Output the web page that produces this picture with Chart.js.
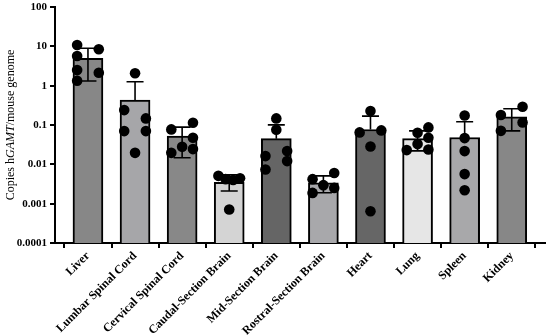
<!DOCTYPE html>
<html>
<head>
<meta charset="utf-8">
<script src="https://cdn.jsdelivr.net/npm/chart.js@4"></script>
<style>
html,body{margin:0;padding:0;background:#fff;}
#wrap{width:550px;height:335px;position:relative;}
</style>
</head>
<body>
<div id="wrap"><canvas id="c" width="550" height="335"></canvas></div>
<script>
// ---- data ----
const categories = ['Liver','Lumbar Spinal Cord','Cervical Spinal Cord','Caudal-Section Brain','Mid-Section Brain','Rostral-Section Brain','Heart','Lung','Spleen','Kidney'];
const means    = [4.95, 0.43, 0.052, 0.0035, 0.045, 0.0034, 0.077, 0.045, 0.048, 0.162];
const errUpper = [8.9, 1.26, 0.0885, 0.0054, 0.101, 0.0051, 0.168, 0.071, 0.121, 0.258];
const errLower = [1.31, null, 0.0147, 0.0021, null, 0.0019, null, 0.022, null, 0.0711];
const yTicks = [100, 10, 1, 0.1, 0.01, 0.001, 0.0001];

const liver   = [10.8, 8.4, 5.66, 2.49, 2.13, 1.33];
const lumbar  = [2.06, 0.239, 0.147, 0.070, 0.070, 0.0196];
const cervical= [0.0773, 0.114, 0.0473, 0.0279, 0.0196, 0.0244];
const caudal  = [0.0051, 0.0042, 0.0040, 0.0044, 0.00071];
const midBrain= [0.147, 0.0755, 0.0162, 0.0217, 0.0121, 0.0074];
const rostral = [0.0042, 0.0060, 0.00296, 0.00252, 0.00188];
const heart   = [0.226, 0.0649, 0.0729, 0.0285, 0.00064];
const lung    = [0.0868, 0.0634, 0.0473, 0.0327, 0.0230, 0.0239];
const spleen  = [0.175, 0.0465, 0.0217, 0.00564, 0.0022];
const kidney  = [0.29, 0.179, 0.116, 0.0711];
const pointSets = [liver, lumbar, cervical, caudal, midBrain, rostral, heart, lung, spleen, kidney];

// ---- style / layout ----
const barColors = ['#878787','#a6a6a9','#888888','#d4d4d4','#656565','#a8a8ab','#666666','#e6e6e6','#a8a8aa','#878787'];
const jitterCols = [
  [-1, 1, -1, -1, 1, -1],
  [0, -1, 1, -1, 1, 0],
  [-1, 1, 1, 0, -1, 1],
  [-1, -0.33, 0.36, 1, 0],
  [0, 0, -1, 1, 1, -1],
  [-1, 1, 0, 1, -1],
  [0, -1, 1, 0, 0],
  [1, 0, 1, 0, -1, 1],
  [0, 0, 0, 0, 0],
  [1, -1, 1, -1]
];
const JIT = 0.23;
const SERIF = '"Liberation Serif", "DejaVu Serif", serif';

const barData = means.map((v, i) => ({x: i, y: v}));
const dotData = [];
pointSets.forEach((arr, i) => arr.forEach((v, k) => dotData.push({x: i + jitterCols[i][k] * JIT, y: v})));

const errorBars = {
  id: 'errorBars',
  afterDatasetDraw(chart, args) {
    if (args.index !== 0) return;
    const ctx = chart.ctx, xs = chart.scales.x, ys = chart.scales.y;
    ctx.save();
    ctx.strokeStyle = '#000';
    ctx.lineWidth = 1.6;
    const cap = 8.5;
    means.forEach((m, i) => {
      const x = xs.getPixelForValue(i);
      const ym = ys.getPixelForValue(m);
      const yu = ys.getPixelForValue(errUpper[i]);
      ctx.beginPath();
      ctx.moveTo(x, ym); ctx.lineTo(x, yu);
      ctx.moveTo(x - cap, yu); ctx.lineTo(x + cap, yu);
      if (errLower[i] != null) {
        const yl = ys.getPixelForValue(errLower[i]);
        ctx.moveTo(x, ym); ctx.lineTo(x, yl);
        ctx.moveTo(x - cap, yl); ctx.lineTo(x + cap, yl);
      }
      ctx.stroke();
    });
    ctx.restore();
  }
};

const yTitle = {
  id: 'yTitle',
  afterDraw(chart) {
    const ctx = chart.ctx, a = chart.chartArea;
    const parts = [
      {t: 'Copies h', f: '12px ' + SERIF},
      {t: 'GAMT', f: 'italic 12px ' + SERIF},
      {t: '/mouse genome', f: '12px ' + SERIF}
    ];
    ctx.save();
    let total = 0;
    parts.forEach(p => { ctx.font = p.f; p.w = ctx.measureText(p.t).width; total += p.w; });
    ctx.translate(11, (a.top + a.bottom) / 2);
    ctx.rotate(-Math.PI / 2);
    ctx.fillStyle = '#000';
    ctx.textBaseline = 'middle';
    ctx.textAlign = 'left';
    let x = -total / 2;
    parts.forEach(p => { ctx.font = p.f; ctx.fillText(p.t, x, 0); x += p.w; });
    ctx.restore();
  }
};

new Chart(document.getElementById('c'), {
  data: {
    datasets: [
      {type: 'bar', data: barData, backgroundColor: barColors, borderColor: '#000', borderWidth: 2, barThickness: 30, order: 2},
      {type: 'scatter', data: dotData, pointRadius: 5.3, pointBackgroundColor: '#000', pointBorderWidth: 0, pointHoverRadius: 5.3, order: 1}
    ]
  },
  options: {
    responsive: false,
    animation: false,
    events: [],
    layout: {padding: {top: 7, right: 3, left: 0, bottom: 0}},
    plugins: {legend: {display: false}, tooltip: {enabled: false}},
    scales: {
      x: {
        type: 'linear', min: -0.7, max: 9.7, offset: false,
        afterBuildTicks(s) { s.ticks = categories.map((c, i) => ({value: i})); },
        afterFit(s) { s.height = 92; s.paddingLeft = 0; s.paddingRight = 0; },
        ticks: {
          autoSkip: false, maxRotation: 45, minRotation: 45, padding: 1,
          color: '#000', font: {family: SERIF, size: 12, weight: 'bold'},
          callback: v => categories[v]
        },
        grid: {display: true, drawOnChartArea: false, drawTicks: true, tickLength: 5, color: '#000', lineWidth: 2},
        border: {display: true, color: '#000', width: 2}
      },
      y: {
        type: 'logarithmic', min: 0.0001, max: 100,
        afterBuildTicks(s) { s.ticks = yTicks.map(v => ({value: v})); },
        afterFit(s) { s.width = 55; s.paddingTop = 0; s.paddingBottom = 0; },
        ticks: {
          color: '#000', padding: 3, font: {family: SERIF, size: 11, weight: 'bold'},
          callback: v => String(v)
        },
        grid: {display: true, drawOnChartArea: false, drawTicks: true, tickLength: 5, color: '#000', lineWidth: 2},
        border: {display: true, color: '#000', width: 2}
      }
    }
  },
  plugins: [errorBars, yTitle]
});
</script>
</body>
</html>
